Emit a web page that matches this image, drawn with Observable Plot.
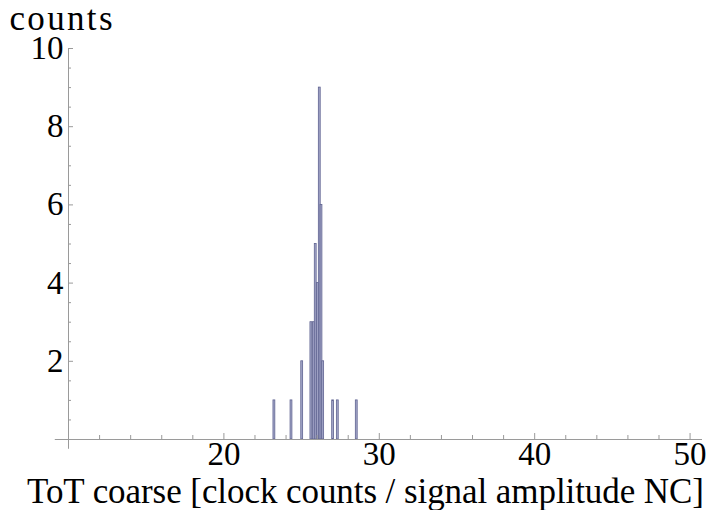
<!DOCTYPE html>
<html>
<head>
<meta charset="utf-8">
<script src="https://cdn.jsdelivr.net/npm/d3@7"></script>
<script src="https://cdn.jsdelivr.net/npm/@observablehq/plot@0.6"></script>
<style>
  html, body { margin: 0; padding: 0; background: #fff; }
  #chart svg { display: block; }
</style>
</head>
<body>
<div id="chart"></div>
<script>
// Histogram bins (centers) and counts
const binCenters = [23.25, 24.35, 25.04, 25.63, 25.79, 25.91, 26.05, 26.17, 26.28, 26.39, 27.03, 27.33, 28.55];
const counts     = [1, 1, 2, 3, 3, 5, 4, 9, 6, 2, 1, 1, 1];
const binWidth = 0.12;

const xMajorTicks = [20, 30, 40, 50];
const xMinorTicks = [12, 14, 16, 18, 22, 24, 26, 28, 32, 34, 36, 38, 42, 44, 46, 48];
const yMajorTicks = [2, 4, 6, 8, 10];
const yMinorTicks = [0.5, 1, 1.5, 2.5, 3, 3.5, 4.5, 5, 5.5, 6.5, 7, 7.5, 8.5, 9, 9.5];

const xLabel = "ToT coarse [clock counts / signal amplitude NC]";
const yLabel = "counts";

const bars = binCenters.map((c, i) => ({x: c, count: counts[i]}));

const font = "'Liberation Serif', 'Times New Roman', serif";
const axisColor = "#9a9a9a";

const chart = Plot.plot({
  width: 716,
  height: 510,
  marginLeft: 68,
  marginRight: 14,
  marginTop: 48,
  marginBottom: 71,
  style: {fontFamily: font, background: "#fff", color: "#000", overflow: "visible"},
  x: {domain: [10, 50.8], axis: null},
  y: {domain: [0, 10], axis: null},
  marks: [
    Plot.rectY(bars, {
      x1: d => d.x - binWidth / 2,
      x2: d => d.x + binWidth / 2,
      y: "count",
      fill: "#a7aacb",
      stroke: "#5e6290",
      strokeWidth: 0.8
    }),
    // x axis line (extends slightly left of the y axis)
    Plot.ruleY([0], {x1: 9.15, x2: 50.8, stroke: axisColor, strokeWidth: 1}),
    // y axis line
    Plot.ruleX([10], {y1: -0.25, y2: 10, stroke: axisColor, strokeWidth: 1}),
    // x ticks (pointing up into the plot)
    Plot.axisX({ticks: xMinorTicks, tickSize: -4, tickFormat: () => "", label: null, stroke: axisColor, strokeWidth: 1}),
    Plot.axisX({ticks: xMajorTicks, tickSize: -6, tickPadding: 8, label: null, stroke: axisColor, strokeWidth: 1,
      fontSize: 33, fill: "#000"}),
    // y ticks (pointing right into the plot)
    Plot.axisY({ticks: yMinorTicks, tickSize: -3, tickFormat: () => "", label: null, stroke: axisColor, strokeWidth: 1}),
    Plot.axisY({ticks: yMajorTicks, tickSize: -5, tickPadding: 10, label: null, stroke: axisColor, strokeWidth: 1,
      fontSize: 33, fill: "#000"}),
    Plot.text([yLabel], {frameAnchor: "top-left", text: d => d, textAnchor: "start", lineAnchor: "bottom",
      dx: -59, dy: -19, fontSize: 35, fill: "#000"}),
    Plot.text([xLabel], {frameAnchor: "bottom", text: d => d, textAnchor: "middle", lineAnchor: "bottom",
      dx: -20, dy: 63, fontSize: 35, fill: "#000"})
  ]
});
// stretch the two labels horizontally to the widths seen in the reference
chart.querySelectorAll("text").forEach(t => {
  if (t.textContent === yLabel) { t.setAttribute("textLength", 103); t.setAttribute("lengthAdjust", "spacing"); }
  if (t.textContent === xLabel) { t.setAttribute("textLength", 677); t.setAttribute("lengthAdjust", "spacing"); }
});
document.getElementById("chart").appendChild(chart);
</script>
</body>
</html>
